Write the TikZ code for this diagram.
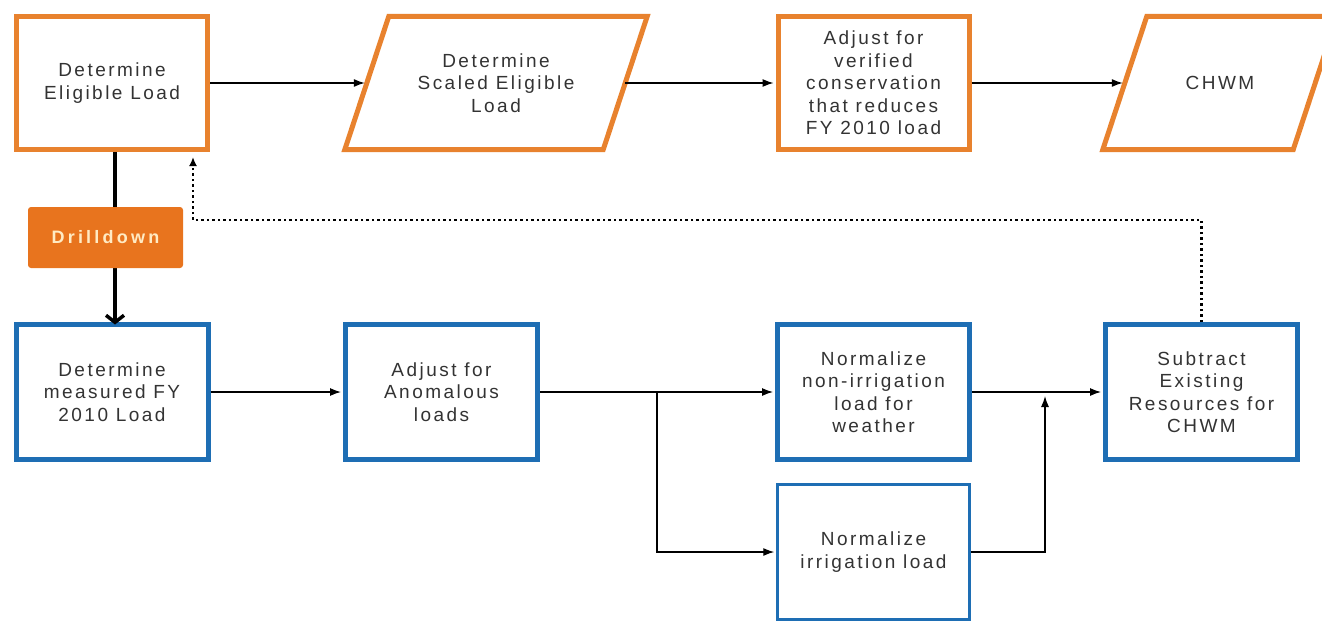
\documentclass[tikz,border=0pt]{standalone}
\usepackage{fontspec}
\setmainfont{Liberation Sans}
\newfontfamily\boxfont{Liberation Sans}[LetterSpace=13]
\newfontfamily\ddfont{Liberation Sans}[LetterSpace=18]
\usetikzlibrary{arrows.meta}
\definecolor{oline}{HTML}{E8822E}
\definecolor{ofill}{HTML}{E8741E}
\definecolor{bline}{HTML}{1E6EB4}
\definecolor{txt}{HTML}{333333}
\definecolor{ddtxt}{HTML}{FFEBC4}
\begin{document}
\begin{tikzpicture}[x=1pt,y=-1pt,
  every node/.style={font=\boxfont\fontsize{19}{22.5}\selectfont, text=txt, align=center},
  obox/.style={draw=oline, line width=5pt, fill=white, minimum width=191pt, minimum height=133pt, inner sep=0pt},
  bbox/.style={draw=bline, line width=5pt, fill=white, minimum width=192pt, minimum height=135pt, inner sep=0pt},
  bthin/.style={bbox, line width=2.5pt},
  pbox/.style={minimum width=258pt, minimum height=133pt, inner sep=0pt},
  pline/.style={draw=oline, line width=5pt, line join=miter},
  arr/.style={-{Latex[length=11pt,width=8pt]}, line width=1.2pt, black, shorten >=2pt},
  drill/.style={-{Straight Barb[length=7pt,width=18pt]}, line width=3.5pt, black},
  dots/.style={-{Latex[length=9pt,width=8pt]}, line width=2.5pt, dash pattern=on 2.5pt off 3pt, black},
  ddbox/.style={fill=ofill, rounded corners=3pt, minimum width=155pt, minimum height=61pt, inner sep=0pt,
    font=\ddfont\bfseries\fontsize{18}{20}\selectfont, text=ddtxt}
]
\useasboundingbox (0,0) rectangle (1322,621);

% top row
\node[obox] (b1) at (112,83) {Determine\\Eligible Load};
\node[pbox] (p2) at (496,83) {Determine\\Scaled Eligible\\Load};
\node[obox] (b3) at (873.5,83) {Adjust for\\verified\\conservation\\that reduces\\FY 2010 load};
\node[pbox, minimum width=190pt] (p4) at (1220,83) {CHWM};
\draw[pline] ([xshift=22pt]p2.north west) -- ([xshift=22pt]p2.north east) -- ([xshift=-22pt]p2.south east) -- ([xshift=-22pt]p2.south west) -- cycle;
\draw[pline] ([xshift=22pt]p4.north west) -- ([xshift=22pt]p4.north east) -- ([xshift=-22pt]p4.south east) -- ([xshift=-22pt]p4.south west) -- cycle;

% bottom row
\node[bbox] (b5) at (112,392) {Determine\\measured FY\\2010 Load};
\node[bbox] (b6) at (441.5,392) {Adjust for\\Anomalous\\loads};
\node[bbox] (b7) at (873.5,392) {Normalize\\non-irrigation\\load for\\weather};
\node[bbox] (b8) at (1201.5,392) {Subtract\\Existing\\Resources for\\CHWM};
\node[bthin] (b9) at (873.5,552) {Normalize\\irrigation load};

% drilldown
\draw[drill] ([xshift=3pt]b1.south) -- ([xshift=3pt,yshift=-2.5pt]b5.north);
\node[ddbox] (dd) at (105.5,237.5) {Drilldown};

% top connectors
\draw[arr] (b1.east) -- (p2.west);
\draw[arr] (p2.east) -- (b3.west);
\draw[arr] (b3.east) -- (p4.west);

% bottom connectors
\draw[arr] (b5.east) -- (b6.west);
\draw[arr] (b6.east) -- (b7.west);
\coordinate (br) at (657,392);
\draw[arr] (br) |- (b9.west);
\draw[arr] (b7.east) -- (b8.west);
\coordinate (jn) at (1045,394);
\draw[arr] (b9.east) -| (jn);

% dotted feedback
\coordinate (dr) at (1201.5,220);
\coordinate (dl) at (193,220);
\draw[dots, shorten >=5pt] (b8.north) -- (dr) -- (dl) -- (dl |- b1.south);
\end{tikzpicture}
\end{document}
